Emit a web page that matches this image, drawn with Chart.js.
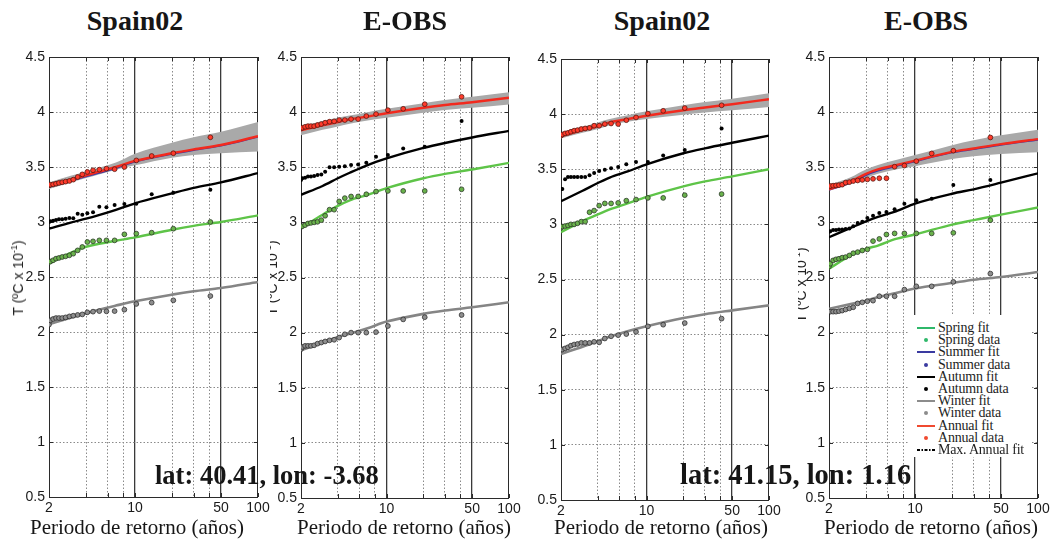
<!DOCTYPE html>
<html>
<head>
<meta charset="utf-8">
<script src="https://cdn.jsdelivr.net/npm/chart.js@4.4.1/dist/chart.umd.min.js"></script>
<style>
  html, body { margin: 0; padding: 0; background: #fff; }
  #wrap { position: relative; width: 1060px; height: 546px; overflow: hidden; font-family: "Liberation Serif", "Times New Roman", serif; color: #161616; }
  #wrap canvas { position: absolute; }
  .ttl { position: absolute; top: 7px; font-weight: bold; font-size: 28px; line-height: 28px; transform: translateX(-50%); white-space: nowrap; }
  .xl { position: absolute; top: 517px; font-size: 21px; line-height: 21px; transform: translateX(-50%); white-space: nowrap; }
  .loc { position: absolute; font-weight: bold; white-space: nowrap; }
  .yl { position: absolute; font-family: "Liberation Sans", Arial, sans-serif; font-size: 14px; line-height: 14px; white-space: nowrap; transform: translate(-50%, -50%) rotate(-90deg); color: #222; }
  .yl sup { font-size: 9px; vertical-align: 6px; line-height: 0; }
  .clip { position: absolute; overflow: hidden; }
  #legend { position: absolute; left: 909px; top: 315px; width: 122px; height: 142px; background: #fff; font-size: 14px; color: #1e1e1e; }
  #legend .row { position: absolute; left: 0; height: 16px; line-height: 16px; white-space: nowrap; }
  #legend .txt { position: absolute; left: 29px; top: 0; letter-spacing: -0.2px; }
</style>
</head>
<body>
<div id="wrap">
  <canvas id="p1" width="263" height="471" style="left:9px;top:50px"></canvas>
  <canvas id="p2" width="262" height="472" style="left:261px;top:50px"></canvas>
  <canvas id="p3" width="262" height="472" style="left:521px;top:52px"></canvas>
  <canvas id="p4" width="263" height="472" style="left:789px;top:50px"></canvas>
</div>
<script>
// return periods of the plotted samples (años)
const retX = [2.0, 2.05, 2.16, 2.28, 2.41, 2.56, 2.73, 2.93, 3.15, 3.42, 3.73, 4.1, 4.56, 5.13, 5.86, 6.83, 8.2, 10.25, 13.67, 20.5, 41];
const fitX = [2, 3, 4, 5, 7, 10, 20, 30, 50, 100];
const gridX = [2, 4, 6, 8, 10, 20, 30, 40, 50, 100];
const solidX = [10, 50];
const xTickLabels = [2, 10, 50, 100];
const yTicks = [0.5, 1, 1.5, 2, 2.5, 3, 3.5, 4, 4.5];
const panelTitles = ['Spain02', 'E-OBS', 'Spain02', 'E-OBS'];
const locLabels = ['lat: 40.41, lon: -3.68', 'lat: 41.15, lon: 1.16'];
const xAxisTitle = 'Periodo de retorno (años)';

// Panel 1 - Spain02, lat 40.41
const p1Annual = [3.333, 3.339, 3.342, 3.348, 3.355, 3.361, 3.367, 3.373, 3.385, 3.409, 3.433, 3.455, 3.47, 3.476, 3.485, 3.48, 3.50, 3.56, 3.60, 3.625, 3.77];
const p1Autumn = [3.0, 3.006, 3.012, 3.018, 3.024, 3.024, 3.03, 3.036, 3.033, 3.076, 3.067, 3.079, 3.088, 3.139, 3.133, 3.155, 3.164, 3.167, 3.252, 3.267, 3.294];
const p1Spring = [2.64, 2.64, 2.652, 2.667, 2.673, 2.682, 2.688, 2.697, 2.712, 2.742, 2.773, 2.818, 2.824, 2.833, 2.833, 2.833, 2.888, 2.894, 2.903, 2.939, 3.0];
const p1Winter = [2.067, 2.106, 2.118, 2.127, 2.127, 2.127, 2.133, 2.142, 2.148, 2.155, 2.16, 2.179, 2.185, 2.19, 2.188, 2.19, 2.203, 2.255, 2.267, 2.288, 2.327];
const p1AnnualFit = [3.327, 3.385, 3.424, 3.455, 3.50, 3.555, 3.625, 3.66, 3.70, 3.78];
const p1SummerFit = [3.32, 3.375, 3.415, 3.445, 3.49, 3.55, 3.62, 3.655, 3.695, 3.775];
const p1AutumnFit = [2.94, 2.995, 3.03, 3.06, 3.11, 3.17, 3.26, 3.31, 3.36, 3.445];
const p1SpringFit = [2.62, 2.72, 2.775, 2.80, 2.83, 2.86, 2.93, 2.965, 3.0, 3.06];
const p1WinterFit = [2.07, 2.13, 2.17, 2.20, 2.24, 2.28, 2.34, 2.37, 2.40, 2.455];
const p1BandLo = [3.30, 3.36, 3.40, 3.43, 3.475, 3.515, 3.585, 3.61, 3.625, 3.64];
const p1BandHi = [3.36, 3.42, 3.46, 3.49, 3.54, 3.62, 3.72, 3.77, 3.82, 3.91];

// Panel 2 - E-OBS, lat 40.41
const p2Annual = [3.852, 3.858, 3.867, 3.873, 3.873, 3.873, 3.883, 3.892, 3.904, 3.913, 3.916, 3.928, 3.928, 3.937, 3.937, 3.964, 3.982, 4.018, 4.03, 4.072, 4.139];
const p2Autumn = [3.385, 3.40, 3.405, 3.415, 3.415, 3.42, 3.43, 3.435, 3.46, 3.50, 3.50, 3.505, 3.51, 3.52, 3.525, 3.54, 3.595, 3.61, 3.67, 3.685, 3.92];
const p2Spring = [2.96, 2.965, 2.975, 2.99, 2.995, 3.0, 3.005, 3.02, 3.06, 3.115, 3.115, 3.19, 3.22, 3.235, 3.235, 3.255, 3.28, 3.285, 3.285, 3.285, 3.30];
const p2Winter = [1.85, 1.87, 1.88, 1.88, 1.88, 1.885, 1.90, 1.91, 1.92, 1.93, 1.935, 1.955, 1.985, 2.0, 2.0, 2.0, 2.005, 2.06, 2.12, 2.14, 2.16];
const p2AnnualFit = [3.835, 3.88, 3.91, 3.935, 3.96, 3.99, 4.04, 4.065, 4.09, 4.13];
const p2AutumnFit = [3.25, 3.33, 3.40, 3.45, 3.52, 3.58, 3.675, 3.72, 3.77, 3.83];
const p2SpringFit = [2.95, 3.07, 3.15, 3.20, 3.25, 3.31, 3.40, 3.44, 3.48, 3.54];
const p2WinterFit = [1.84, 1.91, 1.96, 1.99, 2.04, 2.10, 2.17, 2.20, 2.23, 2.275];
const p2BandLo = [3.79, 3.84, 3.87, 3.895, 3.925, 3.95, 3.995, 4.02, 4.04, 4.07];
const p2BandHi = [3.87, 3.92, 3.95, 3.97, 4.0, 4.03, 4.08, 4.11, 4.14, 4.18];

// Panel 3 - Spain02, lat 41.15
const p3Annual = [3.805, 3.815, 3.825, 3.83, 3.84, 3.85, 3.855, 3.865, 3.87, 3.875, 3.895, 3.895, 3.91, 3.915, 3.91, 3.945, 3.97, 4.005, 4.03, 4.055, 4.08];
const p3Autumn = [3.32, 3.32, 3.41, 3.43, 3.43, 3.43, 3.43, 3.43, 3.43, 3.445, 3.465, 3.485, 3.495, 3.51, 3.52, 3.545, 3.565, 3.565, 3.625, 3.675, 3.87];
const p3Spring = [2.97, 2.98, 2.985, 2.99, 3.0, 3.0, 3.01, 3.025, 3.025, 3.11, 3.125, 3.17, 3.19, 3.19, 3.195, 3.215, 3.225, 3.24, 3.24, 3.265, 3.275];
const p3Winter = [1.865, 1.865, 1.875, 1.885, 1.90, 1.91, 1.915, 1.925, 1.925, 1.925, 1.935, 1.93, 1.965, 1.985, 1.995, 2.005, 2.025, 2.075, 2.09, 2.105, 2.145];
const p3AnnualFit = [3.80, 3.855, 3.89, 3.925, 3.955, 3.985, 4.035, 4.06, 4.09, 4.135];
const p3AutumnFit = [3.21, 3.305, 3.375, 3.425, 3.48, 3.545, 3.645, 3.69, 3.74, 3.805];
const p3SpringFit = [2.93, 3.03, 3.09, 3.135, 3.19, 3.25, 3.345, 3.39, 3.435, 3.50];
const p3WinterFit = [1.825, 1.89, 1.94, 1.98, 2.03, 2.075, 2.15, 2.185, 2.22, 2.265];
const p3BandLo = [3.78, 3.83, 3.865, 3.90, 3.93, 3.955, 3.995, 4.015, 4.035, 4.065];
const p3BandHi = [3.83, 3.885, 3.925, 3.955, 3.99, 4.025, 4.08, 4.11, 4.14, 4.19];

// Panel 4 - E-OBS, lat 41.15
const p4Annual = [3.325, 3.33, 3.333, 3.335, 3.338, 3.342, 3.36, 3.365, 3.375, 3.38, 3.385, 3.39, 3.395, 3.40, 3.40, 3.505, 3.515, 3.555, 3.625, 3.65, 3.77];
const p4Autumn = [2.915, 2.92, 2.93, 2.93, 2.935, 2.935, 2.94, 2.945, 2.965, 2.995, 3.005, 3.04, 3.06, 3.085, 3.095, 3.12, 3.17, 3.2, 3.215, 3.34, 3.385];
const p4Spring = [2.60, 2.625, 2.655, 2.665, 2.67, 2.68, 2.685, 2.70, 2.72, 2.73, 2.745, 2.755, 2.83, 2.85, 2.89, 2.90, 2.90, 2.90, 2.90, 2.905, 3.02];
const p4Winter = [2.19, 2.19, 2.19, 2.19, 2.195, 2.20, 2.21, 2.22, 2.23, 2.265, 2.275, 2.285, 2.29, 2.33, 2.33, 2.33, 2.39, 2.42, 2.42, 2.46, 2.535];
const p4AnnualFit = [3.30, 3.37, 3.44, 3.48, 3.52, 3.56, 3.64, 3.67, 3.71, 3.755];
const p4SummerFit = [3.295, 3.36, 3.43, 3.47, 3.51, 3.555, 3.635, 3.665, 3.705, 3.75];
const p4AutumnFit = [2.865, 2.95, 3.01, 3.05, 3.10, 3.17, 3.26, 3.30, 3.36, 3.445];
const p4SpringFit = [2.58, 2.70, 2.76, 2.79, 2.85, 2.89, 2.98, 3.02, 3.07, 3.135];
const p4WinterFit = [2.215, 2.26, 2.29, 2.32, 2.36, 2.40, 2.45, 2.48, 2.505, 2.55];
const p4BandLo = [3.295, 3.35, 3.40, 3.44, 3.48, 3.51, 3.575, 3.60, 3.62, 3.635];
const p4BandHi = [3.34, 3.41, 3.48, 3.52, 3.565, 3.61, 3.70, 3.745, 3.79, 3.84];

const legendLabels = ['Spring fit', 'Spring data', 'Summer fit', 'Summer data', 'Autumn fit', 'Autumn data', 'Winter fit', 'Winter data', 'Annual fit', 'Annual data', 'Max. Annual fit'];
const legendKinds = ['line', 'dot', 'line', 'dot', 'line', 'dot', 'line', 'dot', 'line', 'dot', 'dashdot'];
const legendColors = ['#2fb86a', '#2fb86a', '#3a3aa0', '#3a3aa0', '#000', '#000', '#8c8c8c', '#8c8c8c', '#f04a30', '#f04a30', '#000'];

const RED = '#f22a1e', GREEN = '#5ec448', GREY = '#858585', BAND = '#a9a9a9', BLUE = '#3a3aa8';

function pts(xs, ys) {
    return xs.map((x, i) => ({ x: x, y: ys[i] }));
}

function fitLine(ys, color, w, order) {
    return { data: pts(fitX, ys), borderColor: color, borderWidth: w, pointRadius: 0, fill: false,
             cubicInterpolationMode: 'monotone', order: order };
}

function dots(ys, fillC, edgeC, r, bw) {
    return { data: pts(retX, ys), showLine: false, pointRadius: r, pointBackgroundColor: fillC,
             pointBorderColor: edgeC, pointBorderWidth: bw, order: 1 };
}

// MATLAB-like box with inward ticks
const framePlugin = {
    id: 'frame',
    beforeDatasetsDraw(chart) {
        const { ctx, chartArea: a, scales } = chart;
        ctx.save();
        ctx.strokeStyle = '#2b2b2b';
        ctx.lineWidth = 1;
        ctx.strokeRect(a.left + 0.5, a.top + 0.5, a.right - a.left - 1, a.bottom - a.top);
        ctx.beginPath();
        gridX.forEach(v => {
            const px = Math.round(scales.x.getPixelForValue(v)) + 0.5;
            ctx.moveTo(px, a.top); ctx.lineTo(px, a.top + 4);
            ctx.moveTo(px, a.bottom); ctx.lineTo(px, a.bottom - 4);
        });
        yTicks.forEach(v => {
            const py = Math.round(scales.y.getPixelForValue(v)) + 0.5;
            ctx.moveTo(a.left, py); ctx.lineTo(a.left + 4, py);
            ctx.moveTo(a.right, py); ctx.lineTo(a.right - 4, py);
        });
        ctx.stroke();
        ctx.restore();
    }
};

function isSolid(c) { return c.tick && solidX.includes(c.tick.value); }
function isEdgeX(c) { return c.tick && (c.tick.value === 2 || c.tick.value === 100); }
function isEdgeY(c) { return c.tick && (c.tick.value === 0.5 || c.tick.value === 4.5); }

function makePanel(id, datasets) {
    return new Chart(document.getElementById(id), {
        type: 'line',
        data: { datasets: datasets },
        options: {
            responsive: false,
            animation: false,
            devicePixelRatio: 1,
            layout: { padding: { top: 7, right: 14, left: 0, bottom: 0 } },
            plugins: { legend: { display: false }, tooltip: { enabled: false } },
            scales: {
                x: {
                    type: 'logarithmic', min: 2, max: 100,
                    afterBuildTicks: s => { s.ticks = gridX.map(v => ({ value: v })); },
                    afterFit: s => { s.height = 24; s.paddingLeft = 0; s.paddingRight = 0; },
                    ticks: {
                        autoSkip: false, maxRotation: 0, minRotation: 0, padding: 3, color: '#1a1a1a',
                        font: { family: 'Liberation Sans', size: 14 },
                        callback: v => xTickLabels.includes(v) ? String(v) : ''
                    },
                    grid: {
                        drawTicks: false,
                        color: c => isEdgeX(c) ? 'rgba(0,0,0,0)' : (isSolid(c) ? '#3a3a3a' : '#8a8a8a'),
                        lineWidth: c => isSolid(c) ? 1.3 : 1
                    },
                    border: { display: false, dash: c => isSolid(c) ? [] : [1.5, 2] }
                },
                y: {
                    min: 0.5, max: 4.5,
                    afterBuildTicks: s => { s.ticks = yTicks.map(v => ({ value: v })); },
                    afterFit: s => { s.width = 40; s.paddingTop = 0; s.paddingBottom = 0; },
                    ticks: { padding: 4, color: '#1a1a1a', font: { family: 'Liberation Sans', size: 14 },
                             callback: v => String(v) },
                    grid: { drawTicks: false, color: c => isEdgeY(c) ? 'rgba(0,0,0,0)' : '#8a8a8a', lineWidth: 1 },
                    border: { display: false, dash: [1.5, 2] }
                }
            }
        },
        plugins: [framePlugin]
    });
}

function panelSets(bandHi, bandLo, annualFit, summerFit, autumnFit, springFit, winterFit, annual, autumn, spring, winter) {
    const sets = [
        { data: pts(fitX, bandHi), borderWidth: 0, pointRadius: 0, fill: '+1', backgroundColor: BAND, cubicInterpolationMode: 'monotone', order: 20 },
        { data: pts(fitX, bandLo), borderWidth: 0, pointRadius: 0, fill: false, cubicInterpolationMode: 'monotone', order: 20 },
        fitLine(annualFit, RED, 2.4, 10),
        fitLine(autumnFit, '#000', 2.4, 10),
        fitLine(springFit, GREEN, 2.4, 10),
        fitLine(winterFit, GREY, 2.6, 10),
        dots(annual, '#ff3b2b', '#5a1810', 2.4, 0.8),
        dots(autumn, '#000', '#000', 2.0, 0),
        dots(spring, '#6ab24c', '#2c3a28', 2.4, 0.8),
        dots(winter, '#8e8e8e', '#2e2e2e', 2.4, 0.8)
    ];
    if (summerFit) sets.push(fitLine(summerFit, BLUE, 2.0, 11));
    return sets;
}

makePanel('p1', panelSets(p1BandHi, p1BandLo, p1AnnualFit, p1SummerFit, p1AutumnFit, p1SpringFit, p1WinterFit, p1Annual, p1Autumn, p1Spring, p1Winter));
makePanel('p2', panelSets(p2BandHi, p2BandLo, p2AnnualFit, null, p2AutumnFit, p2SpringFit, p2WinterFit, p2Annual, p2Autumn, p2Spring, p2Winter));
makePanel('p3', panelSets(p3BandHi, p3BandLo, p3AnnualFit, null, p3AutumnFit, p3SpringFit, p3WinterFit, p3Annual, p3Autumn, p3Spring, p3Winter));
makePanel('p4', panelSets(p4BandHi, p4BandLo, p4AnnualFit, p4SummerFit, p4AutumnFit, p4SpringFit, p4WinterFit, p4Annual, p4Autumn, p4Spring, p4Winter));

// text overlays
const wrap = document.getElementById('wrap');
function addDiv(cls, html, style) {
    const d = document.createElement('div');
    d.className = cls;
    d.innerHTML = html;
    Object.assign(d.style, style);
    wrap.appendChild(d);
    return d;
}

const titleX = [135, 405, 662, 926];
const xLabelX = [137, 404, 661, 931];
panelTitles.forEach((t, i) => addDiv('ttl', t, { left: titleX[i] + 'px' }));
panelTitles.forEach((t, i) => addDiv('xl', xAxisTitle, { left: xLabelX[i] + 'px' }));
addDiv('loc', locLabels[0], { left: '155px', top: '462px', fontSize: '26.5px', lineHeight: '27px' });
addDiv('loc', locLabels[1], { left: '680px', top: '460px', fontSize: '28.5px', lineHeight: '29px' });

const yLabelHtml = 'T (ºC x 10<sup>-1</sup>)';
addDiv('yl', yLabelHtml, { left: '18px', top: '278px' });
// half-erased copies on panels 2 and 4
const c2 = addDiv('clip', '', { left: '270px', top: '235px', width: '12px', height: '90px' });
const l2 = document.createElement('div'); l2.className = 'yl'; l2.innerHTML = yLabelHtml;
Object.assign(l2.style, { left: '2px', top: '43px' }); c2.appendChild(l2);
const c4 = addDiv('clip', '', { left: '798px', top: '245px', width: '12px', height: '80px' });
const l4 = document.createElement('div'); l4.className = 'yl'; l4.innerHTML = yLabelHtml;
Object.assign(l4.style, { left: '3px', top: '40px' }); c4.appendChild(l4);

// legend
const leg = addDiv('', '', {});
leg.id = 'legend';
legendLabels.forEach((lab, i) => {
    const row = document.createElement('div');
    row.className = 'row';
    row.style.top = (5 + i * 12.2) + 'px';
    row.style.width = '122px';
    let sw = '';
    if (legendKinds[i] === 'line') {
        sw = `<div style="position:absolute;left:8px;top:7px;width:18px;border-top:2px solid ${legendColors[i]}"></div>`;
    } else if (legendKinds[i] === 'dot') {
        sw = `<div style="position:absolute;left:15px;top:6px;width:4px;height:4px;border-radius:50%;background:${legendColors[i]}"></div>`;
    } else {
        sw = `<svg style="position:absolute;left:8px;top:6px" width="19" height="4"><line x1="0" y1="2" x2="19" y2="2" stroke="${legendColors[i]}" stroke-width="2" stroke-dasharray="3,1.5,1.5,1.5"/></svg>`;
    }
    row.innerHTML = sw + `<span class="txt">${lab}</span>`;
    leg.appendChild(row);
});
</script>
</body>
</html>
